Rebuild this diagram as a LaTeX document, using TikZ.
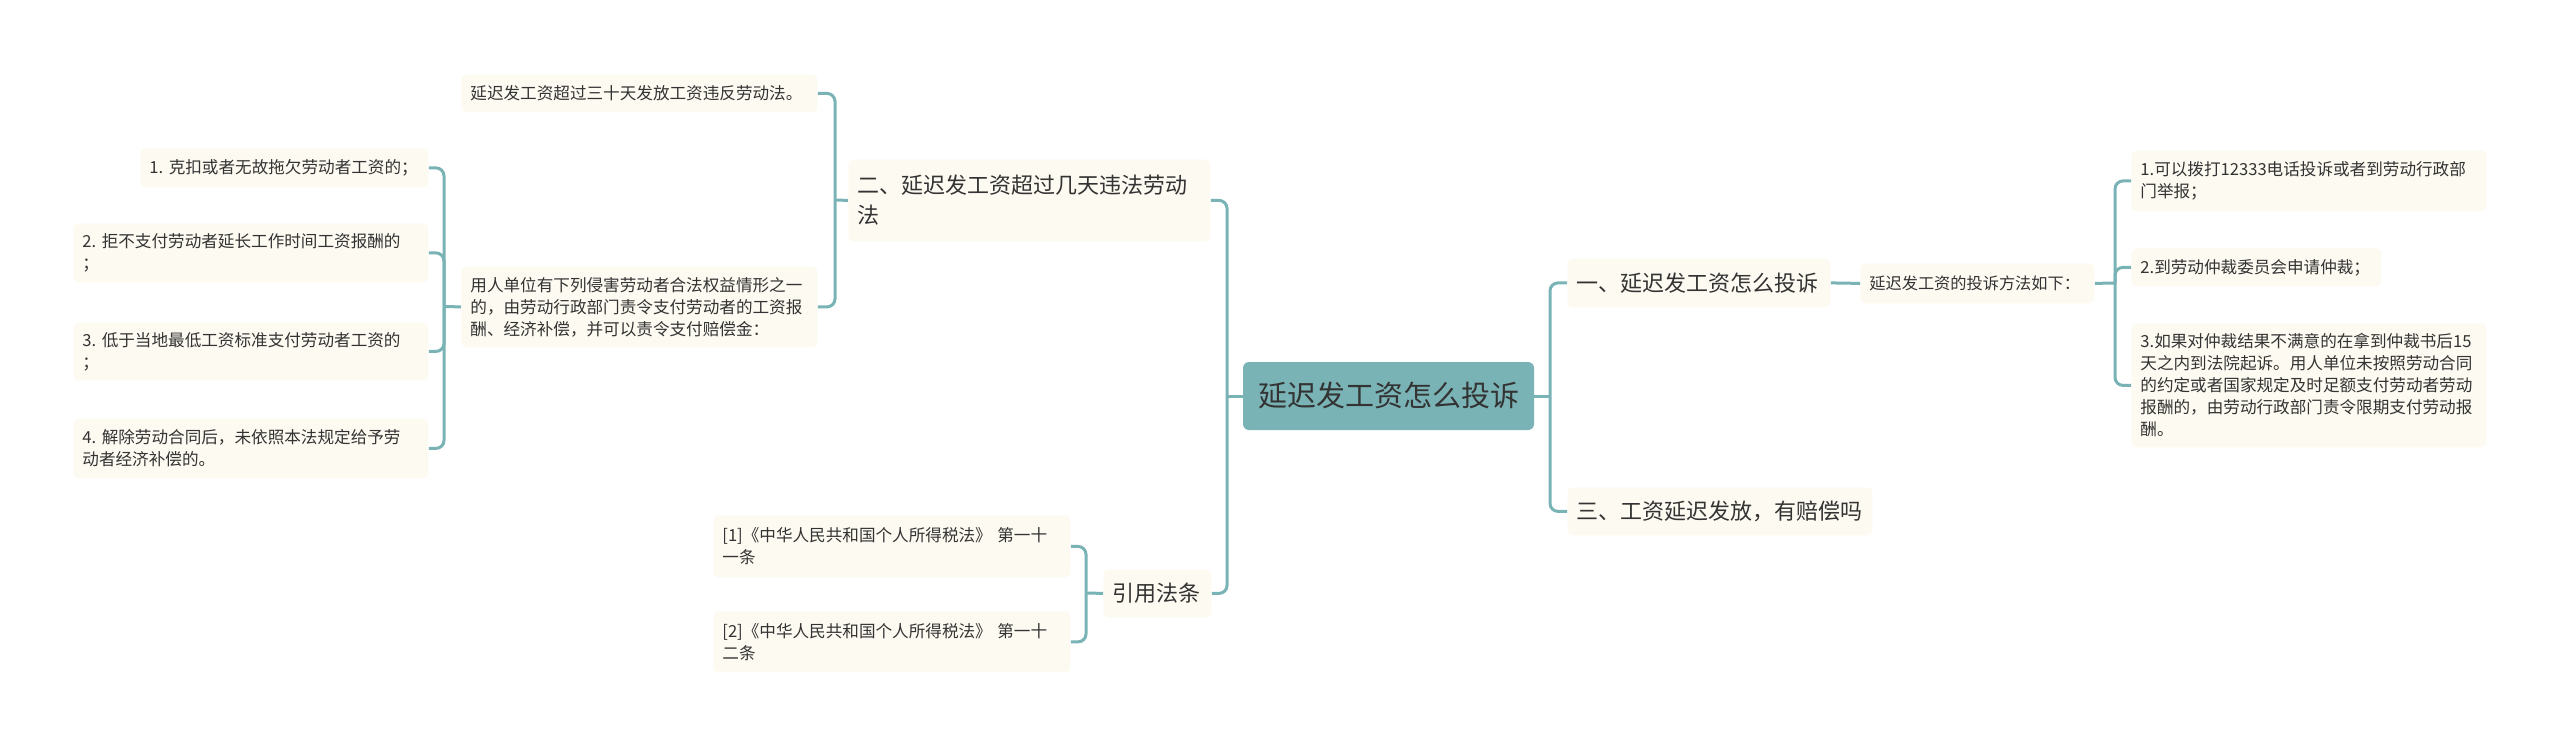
\documentclass[tikz,border=0pt]{standalone}
\usepackage{fontspec}
\newfontfamily\cjk{Noto Sans CJK SC}

\definecolor{linkteal}{HTML}{7AB3B6}
\definecolor{boxcream}{HTML}{FDFAF1}
\definecolor{inkgray}{HTML}{333333}

\tikzset{
  box/.style={fill=boxcream, rounded corners=2.5pt, inner xsep=4.5pt, inner ysep=0pt,
    anchor=north west, align=left, text=inkgray, font=\cjk\fontsize{8.3}{11}\selectfont},
  bigbox/.style={box, font=\cjk\fontsize{11}{15}\selectfont},
  link/.style={draw=linkteal, line width=1.5pt, rounded corners=4pt},
}

\begin{document}
\begin{tikzpicture}[x=0.5pt, y=-0.5pt]
            \useasboundingbox (0,0) rectangle (2560,745);

            % centre
            \node[fill=linkteal, rounded corners=3pt, minimum width=145.5pt, minimum height=34pt,
              text=inkgray, font=\cjk\fontsize{14.5}{18}\selectfont] (root) at (1388.5,396) {延迟发工资怎么投诉};

            % left half
            \node[bigbox, text width=172pt, minimum height=41pt] (law) at (848,159)
              {二、延迟发工资超过几天违法劳动\\法};
            \node[box, text width=169pt, minimum height=19pt] (days) at (461,74)
              {延迟发工资超过三十天发放工资违反劳动法。};
            \node[box, text width=169pt, minimum height=40.5pt] (cases) at (461,266)
              {用人单位有下列侵害劳动者合法权益情形之一\\的，由劳动行政部门责令支付劳动者的工资报\\酬、经济补偿，并可以责令支付赔偿金：};
            \node[box, text width=135pt, minimum height=19.5pt] (case1) at (140,148)
              {1.~克扣或者无故拖欠劳动者工资的；};
            \node[box, text width=168.5pt, minimum height=29.5pt] (case2) at (73,223)
              {2.~拒不支付劳动者延长工作时间工资报酬的\\；};
            \node[box, text width=168.5pt, minimum height=29pt] (case3) at (73,322)
              {3.~低于当地最低工资标准支付劳动者工资的\\；};
            \node[box, text width=168.5pt, minimum height=30pt] (case4) at (73,418)
              {4.~解除劳动合同后，未依照本法规定给予劳\\动者经济补偿的。};

            \node[bigbox, text width=45pt, minimum height=24pt] (cite) at (1103,569) {引用法条};
            \node[box, text width=169.5pt, minimum height=31pt] (cite1) at (713,515)
              {[1]《中华人民共和国个人所得税法》~第一十\\一条};
            \node[box, text width=169.5pt, minimum height=30.5pt] (cite2) at (713,611)
              {[2]《中华人民共和国个人所得税法》~第一十\\二条};

            % right half
            \node[bigbox, text width=122.5pt, minimum height=24.5pt] (how) at (1567,258) {一、延迟发工资怎么投诉};
            \node[bigbox, text width=143.5pt, minimum height=24pt] (pay) at (1567,487) {三、工资延迟发放，有赔偿吗};
            \node[box, text width=108pt, minimum height=20pt, font=\cjk\fontsize{8.1}{11}\selectfont] (ways) at (1860,263)
              {延迟发工资的投诉方法如下：};
            \node[box, text width=168.5pt, minimum height=30.5pt] (way1) at (2131,150)
              {1.可以拨打12333电话投诉或者到劳动行政部\\门举报；};
            \node[box, text width=116pt, minimum height=19pt] (way2) at (2131,248)
              {2.到劳动仲裁委员会申请仲裁；};
            \node[box, text width=168.5pt, minimum height=62pt] (way3) at (2131,323)
              {3.如果对仲裁结果不满意的在拿到仲裁书后15\\天之内到法院起诉。用人单位未按照劳动合同\\的约定或者国家规定及时足额支付劳动者劳动\\报酬的，由劳动行政部门责令限期支付劳动报\\酬。};

            % junctions
            \coordinate (jroot-l) at (1227,396);
            \coordinate (jroot-r) at (1550,396);
            \coordinate (jlaw) at (835,200);
            \coordinate (jcases) at (444,306.5);
            \coordinate (jcite) at (1086,593);
            \coordinate (jways) at (2115,283);

            % links
            \draw[link] (root.west) -- (jroot-l);
            \draw[link] (law.east) -| (jroot-l);
            \draw[link] (cite.east) -| (jroot-l);
            \draw[link] (root.east) -- (jroot-r);
            \draw[link] (how.west) -| (jroot-r);
            \draw[link] (pay.west) -| (jroot-r);

            \draw[link] (law.west) -- (jlaw);
            \draw[link] (days.east) -| (jlaw);
            \draw[link] (cases.east) -| (jlaw);
            \draw[link] (cases.west) -- (jcases);
            \draw[link] (case1.east) -| (jcases);
            \draw[link] (case2.east) -| (jcases);
            \draw[link] (case3.east) -| (jcases);
            \draw[link] (case4.east) -| (jcases);

            \draw[link] (cite.west) -- (jcite);
            \draw[link] (cite1.east) -| (jcite);
            \draw[link] (cite2.east) -| (jcite);

            \draw[link] (how.east) -- (ways.west);
            \draw[link] (ways.east) -- (jways);
            \draw[link] (way1.west) -| (jways);
            \draw[link] (way2.west) -| (jways);
            \draw[link] (way3.west) -| (jways);
\end{tikzpicture}
\end{document}
